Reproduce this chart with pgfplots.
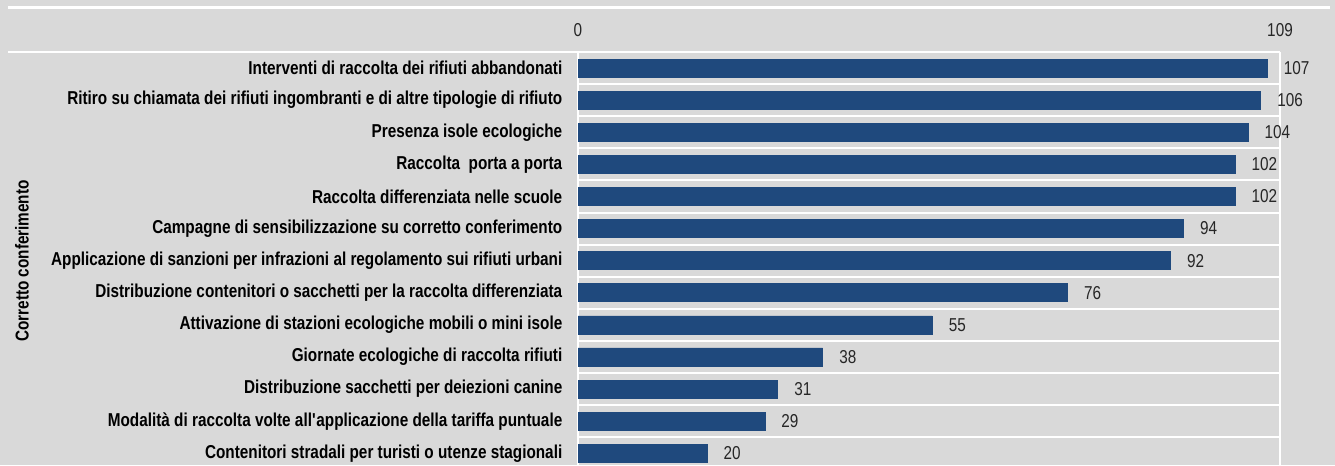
\documentclass[border=0pt]{standalone}
\usepackage{fontspec}
\setmainfont{Liberation Sans}[FakeStretch=0.82]
\usepackage{pgfplots}
\pgfplotsset{compat=1.18}
\definecolor{bg}{HTML}{D9D9D9}
\definecolor{barc}{HTML}{1F497D}
\begin{document}
\begin{tikzpicture}
\path[use as bounding box, fill=bg] (0,0) rectangle (1001.25pt,-348.75pt);
\draw[white, line width=2.25pt] (6pt,-5.25pt) -- (997.5pt,-5.25pt);
\begin{axis}[
  at={(433.5pt,-39pt)}, anchor=north west,
  scale only axis, width=526.5pt, height=312.98pt,
  xbar, bar width=13.5pt,
  xmin=0, xmax=109, ymin=-0.5, ymax=12.5, y dir=reverse,
  xtick={0,109}, xticklabel pos=upper,
  ytick={0,...,12},
  minor ytick={0.5,1.5,...,12.5},
  xmajorgrids, yminorgrids,
  major grid style={white, line width=1.5pt},
  minor grid style={white, line width=1.5pt},
  axis line style={draw=none},
  tick style={draw=none},
  /pgf/number format/assume math mode=true,
  x tick label style={font=\fontsize{14}{16}\selectfont, yshift=8pt, text=black!85},
  y tick label style={font=\bfseries\fontsize{14}{16}\selectfont, anchor=east, xshift=-4pt},
  yticklabels={
    {Interventi di raccolta dei rifiuti abbandonati},
    {Ritiro su chiamata dei rifiuti ingombranti e di altre tipologie di rifiuto},
    {Presenza isole ecologiche},
    {Raccolta~~porta a porta},
    {Raccolta differenziata nelle scuole},
    {Campagne di sensibilizzazione su corretto conferimento},
    {Applicazione di sanzioni per infrazioni al regolamento sui rifiuti urbani},
    {Distribuzione contenitori o sacchetti per la raccolta differenziata},
    {Attivazione di stazioni ecologiche mobili o mini isole},
    {Giornate ecologiche di raccolta rifiuti},
    {Distribuzione sacchetti per deiezioni canine},
    {Modalità di raccolta volte all\textquotesingle applicazione della tariffa puntuale},
    {Contenitori stradali per turisti o utenze stagionali}
  },
  nodes near coords,
  nodes near coords style={font=\fontsize{14}{16}\selectfont, anchor=west, xshift=9pt, text=black!85},
]
\addplot[fill=barc, draw=barc] coordinates {
  (107,0) (106,1) (104,2) (102,3) (102,4) (94,5) (92,6) (76,7) (55,8) (38,9) (31,10) (29,11) (20,12)
};
\end{axis}
\draw[white, line width=1.5pt] (6pt,-39pt) -- (960pt,-39pt);
\node[rotate=90, font=\bfseries\fontsize{14}{16}\selectfont] at (16.5pt,-195.75pt) {Corretto conferimento};
\end{tikzpicture}
\end{document}
